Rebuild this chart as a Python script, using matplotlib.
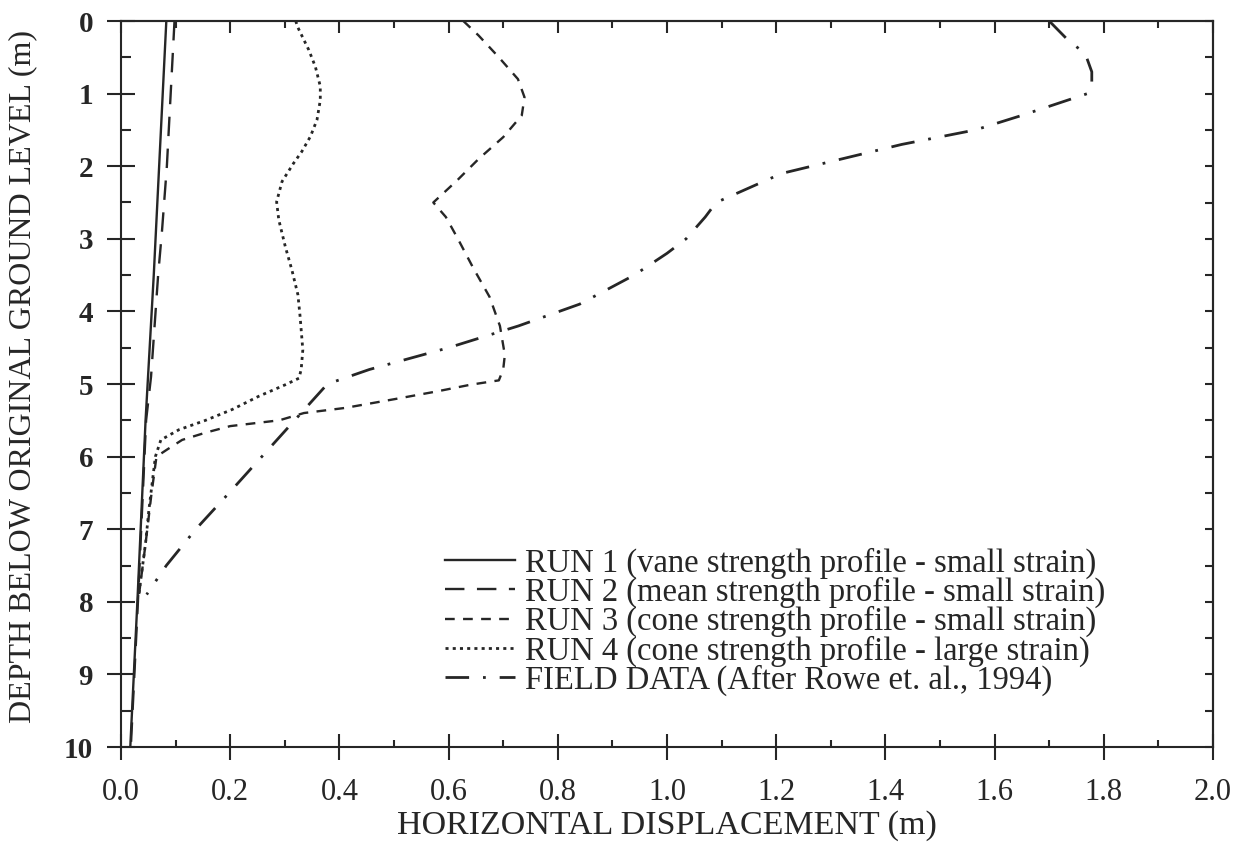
import matplotlib
matplotlib.use('Agg')
import matplotlib.pyplot as plt
from matplotlib.ticker import MultipleLocator, FixedLocator

plt.rcParams['font.family'] = ['Liberation Serif', 'DejaVu Serif']
plt.rcParams['lines.scale_dashes'] = False

INK = '#262626'

# ---------------- data (depth in m, horizontal displacement in m) -------------
run1_depth = [0.0, 3.5, 5.5, 8.0, 10.0]
run1_disp = [0.083, 0.060, 0.045, 0.030, 0.017]

run2_depth = [0.0, 1.0, 2.0, 2.9, 3.5, 4.9, 5.5, 8.0, 10.0]
run2_disp = [0.098, 0.091, 0.084, 0.075, 0.068, 0.055, 0.046, 0.031, 0.018]

run3_depth = [0.0, 0.2, 0.5, 0.8, 1.05, 1.3, 1.6, 1.9, 2.2, 2.5, 2.7, 3.0, 3.4,
              3.8, 4.2, 4.6, 4.8, 4.95, 5.01, 5.10, 5.21, 5.33, 5.40, 5.50,
              5.58, 5.67, 5.77, 5.90, 6.0, 6.5, 7.2, 7.9]
run3_disp = [0.627, 0.655, 0.692, 0.727, 0.739, 0.734, 0.700, 0.655, 0.615,
             0.572, 0.595, 0.617, 0.645, 0.675, 0.694, 0.703, 0.700, 0.692,
             0.640, 0.580, 0.500, 0.410, 0.335, 0.290, 0.200, 0.155, 0.112,
             0.085, 0.065, 0.056, 0.045, 0.033]

run4_depth = [0.0, 0.09, 0.4, 0.63, 0.9, 1.09, 1.36, 1.59, 1.8, 1.96, 2.21,
              2.49, 2.74, 3.11, 3.43, 3.77, 4.07, 4.53, 4.8, 4.92, 5.01, 5.17,
              5.35, 5.5, 5.63, 5.77, 6.0, 6.37, 6.74, 7.19, 7.88]
run4_disp = [0.320, 0.324, 0.344, 0.356, 0.365, 0.365, 0.359, 0.347, 0.331,
             0.316, 0.295, 0.285, 0.289, 0.301, 0.313, 0.324, 0.328, 0.333,
             0.330, 0.326, 0.301, 0.252, 0.204, 0.155, 0.106, 0.073, 0.063,
             0.057, 0.051, 0.045, 0.033]

field_depth = [0.0, 0.26, 0.45, 0.7, 0.9, 1.0, 1.1, 1.3, 1.5, 1.7, 1.9, 2.1,
               2.3, 2.5, 2.7, 3.0, 3.2, 3.5, 3.9, 4.2, 4.5, 4.8, 5.0, 5.5,
               6.0, 6.5, 7.0, 7.5, 7.9]
field_disp = [1.700, 1.734, 1.766, 1.778, 1.778, 1.770, 1.730, 1.650, 1.565,
              1.430, 1.320, 1.210, 1.150, 1.090, 1.070, 1.035, 1.000, 0.940,
              0.840, 0.728, 0.600, 0.455, 0.378, 0.318, 0.258, 0.198, 0.137,
              0.083, 0.047]

labels = ['RUN 1 (vane strength profile - small strain)',
          'RUN 2 (mean strength profile - small strain)',
          'RUN 3 (cone strength profile - small strain)',
          'RUN 4 (cone strength profile - large strain)',
          'FIELD DATA (After Rowe et. al., 1994)']

x_ticks = [0.0, 0.2, 0.4, 0.6, 0.8, 1.0, 1.2, 1.4, 1.6, 1.8, 2.0]
y_ticks = [0, 1, 2, 3, 4, 5, 6, 7, 8, 9, 10]

# ---------------- figure ------------------------------------------------------
fig = plt.figure(figsize=(12.46, 8.46), dpi=100)
ax = fig.add_axes([121 / 1246, 1 - 747 / 846, (1213 - 121) / 1246, (747 - 21) / 846])

lw = 1.7
ax.plot(run1_disp, run1_depth, color=INK, lw=lw, ls='-', label=labels[0])
ax.plot(run2_disp, run2_depth, color=INK, lw=lw, ls=(0, (14, 9)), label=labels[1])
ax.plot(run3_disp, run3_depth, color=INK, lw=lw, ls=(0, (7, 6)), label=labels[2])
ax.plot(run4_disp, run4_depth, color=INK, lw=lw + 0.3, ls=(0, (2.2, 3.0)), label=labels[3])
ax.plot(field_disp, field_depth, color=INK, lw=lw + 0.3, ls=(0, (17, 10, 2, 10)), label=labels[4])

ax.set_xlim(0, 2.0)
ax.set_ylim(10, 0)

ax.xaxis.set_major_locator(FixedLocator(x_ticks))
ax.xaxis.set_minor_locator(MultipleLocator(0.1))
ax.yaxis.set_major_locator(FixedLocator(y_ticks))
ax.yaxis.set_minor_locator(MultipleLocator(0.5))
ax.set_xticklabels([f'{v:.1f}' for v in x_ticks])
ax.set_yticklabels([str(v) for v in y_ticks])

for s in ax.spines.values():
    s.set_linewidth(1.5)
    s.set_color(INK)

ax.tick_params(axis='x', which='major', direction='inout', length=19, width=1.5,
               color=INK, labelsize=22, labelcolor=INK, pad=13)
ax.tick_params(axis='x', which='minor', direction='in', length=5, width=1.5, color=INK)
ax.tick_params(axis='y', which='major', direction='inout', length=20, width=1.5,
               color=INK, labelsize=21, labelcolor=INK, pad=10)
ax.tick_params(axis='y', which='minor', direction='in', length=7, width=1.5, color=INK)
for t in ax.get_yticklabels():
    t.set_fontweight('bold')

# top and right ticks (inward only)
secx = ax.secondary_xaxis('top')
secx.xaxis.set_major_locator(FixedLocator(x_ticks))
secx.xaxis.set_minor_locator(MultipleLocator(0.1))
secx.tick_params(which='major', direction='in', length=8.5, width=1.5, color=INK, labeltop=False)
secx.tick_params(which='minor', direction='in', length=5, width=1.5, color=INK)
secx.spines['top'].set_linewidth(1.5)
secx.spines['top'].set_color(INK)

secy = ax.secondary_yaxis('right')
secy.yaxis.set_major_locator(FixedLocator(y_ticks))
secy.yaxis.set_minor_locator(MultipleLocator(0.5))
secy.tick_params(which='major', direction='in', length=6, width=1.5, color=INK, labelright=False)
secy.tick_params(which='minor', direction='in', length=6, width=1.5, color=INK)
secy.spines['right'].set_linewidth(1.5)
secy.spines['right'].set_color(INK)

ax.set_xlabel('HORIZONTAL DISPLACEMENT (m)', fontsize=24.5, color=INK, labelpad=2)
ax.set_ylabel('DEPTH BELOW ORIGINAL GROUND LEVEL (m)', fontsize=23, color=INK)
ax.yaxis.set_label_coords(-0.077, 0.51)

leg = ax.legend(loc='upper left', bbox_to_anchor=(0.297, 0.275), frameon=False,
                fontsize=23.5, handlelength=2.15, handletextpad=0.3,
                labelspacing=-0.06, borderpad=0, borderaxespad=0)
for t in leg.get_texts():
    t.set_color(INK)

fig.savefig('out.png', dpi=100, facecolor='white')
